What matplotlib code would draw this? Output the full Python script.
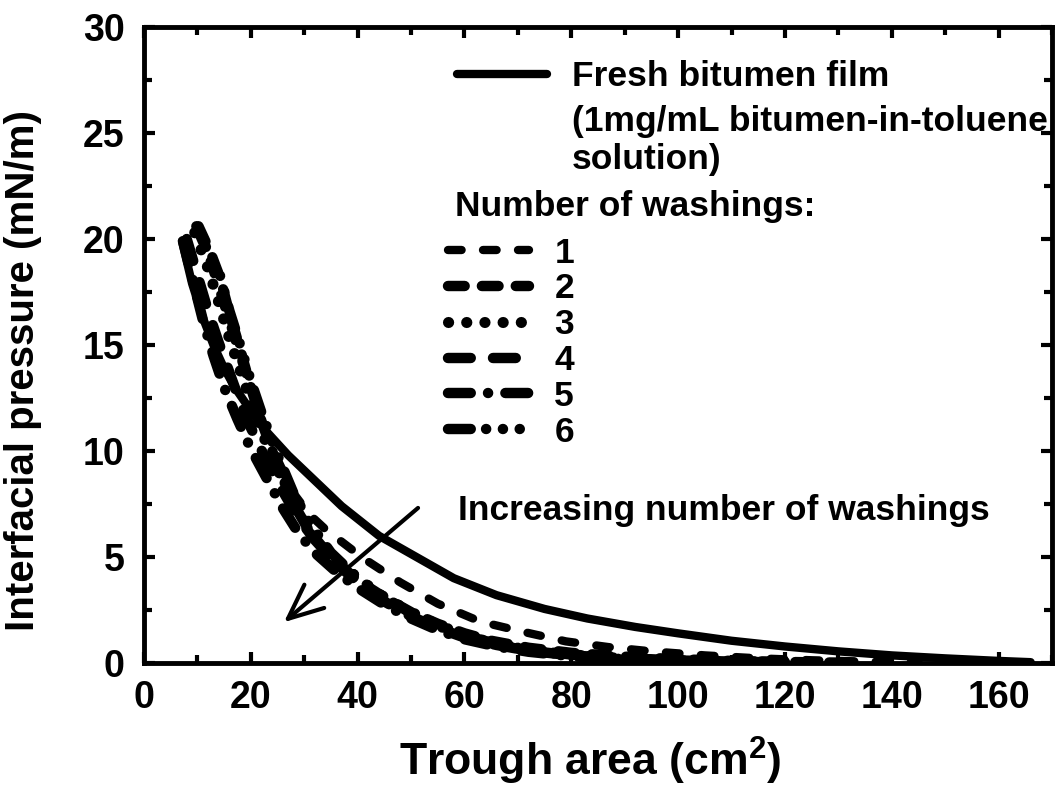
import matplotlib
matplotlib.use('Agg')
import matplotlib.pyplot as plt
from matplotlib.ticker import MultipleLocator

plt.rcParams['font.family'] = ['Liberation Sans', 'DejaVu Sans']
plt.rcParams['font.weight'] = 'bold'
plt.rcParams['axes.labelweight'] = 'bold'
plt.rcParams['mathtext.fontset'] = 'custom'
plt.rcParams['mathtext.rm'] = 'Liberation Sans:bold'
plt.rcParams['mathtext.default'] = 'rm'
plt.rcParams['lines.scale_dashes'] = False

# surface pressure isotherms: trough area (cm2) vs interfacial pressure (mN/m)
area_fresh = [7.1, 9, 11, 13, 15, 17, 20, 23, 27, 32, 37, 44, 51, 58, 66, 75,
              83, 92, 100, 110, 120, 130, 140, 150, 160, 166]
pres_fresh = [19.9, 17.9, 16.3, 15.0, 13.9, 13.0, 11.9, 10.9, 9.8, 8.6, 7.4, 6.0,
              5.0, 4.0, 3.2, 2.55, 2.1, 1.7, 1.4, 1.05, 0.78, 0.55, 0.36, 0.22,
              0.1, 0.04]

area_w1 = [10, 12, 14, 16, 18, 20, 22, 25, 28, 31, 34, 41, 48, 55, 63, 71, 79,
           87, 95, 105, 115, 125, 135, 145]
pres_w1 = [20.5, 19.2, 17.6, 16.0, 14.4, 12.9, 11.5, 9.6, 8.0, 7.0, 6.3, 4.95,
           3.8, 2.8, 1.95, 1.47, 1.02, 0.75, 0.55, 0.36, 0.22, 0.13, 0.07, 0.03]

area_w2 = [10.2, 12.4, 14.2, 16, 18, 20, 22, 25, 28, 31, 35, 40, 45, 50, 55, 60,
           65, 72, 80, 90, 100, 110, 120, 130]
pres_w2 = [20.6, 19.4, 18.2, 16.5, 14.8, 13.0, 11.4, 9.3, 7.5, 6.2, 5.0, 3.9,
           3.1, 2.4, 1.85, 1.4, 1.05, 0.72, 0.48, 0.3, 0.18, 0.1, 0.05, 0.02]

area_w3 = [9.5, 12, 14, 16, 18, 20, 23, 26, 29, 32, 36, 40, 45, 50, 55, 60, 66,
           72, 80, 90, 100, 110, 120]
pres_w3 = [20.3, 18.6, 17.0, 15.3, 13.8, 12.3, 10.3, 8.6, 7.1, 6.0, 4.9, 4.0,
           3.1, 2.4, 1.8, 1.3, 0.9, 0.6, 0.38, 0.22, 0.13, 0.07, 0.04]

area_w4 = [8, 10, 12, 14, 16, 18, 20, 23, 26, 29, 32, 36, 40, 45, 50, 55, 60,
           66, 72, 80, 90, 100, 110, 120]
pres_w4 = [20.0, 18.3, 16.6, 15.1, 13.7, 12.3, 11.1, 9.5, 8.1, 6.8, 5.8, 4.7,
           3.8, 2.9, 2.2, 1.65, 1.2, 0.85, 0.58, 0.36, 0.2, 0.12, 0.07, 0.04]

area_w5 = [7.3, 9, 11, 13, 15, 17.5, 20, 23, 26, 29, 32, 36, 40, 45, 50, 55, 60,
           66, 72, 80, 90, 100, 110, 120]
pres_w5 = [19.9, 18.2, 16.2, 14.5, 13.0, 11.5, 10.1, 8.7, 7.3, 6.1, 5.2, 4.3,
           3.55, 2.75, 2.1, 1.55, 1.12, 0.78, 0.53, 0.32, 0.18, 0.1, 0.06, 0.03]

area_w6 = [9.8, 11, 12.5, 14.2, 16, 18, 20, 22, 25, 28, 31, 35, 40, 45, 50, 55,
           60, 66, 72, 80, 90, 100, 110, 120]
pres_w6 = [20.6, 19.9, 19.2, 18.3, 16.6, 15.0, 13.3, 11.8, 9.8, 8.0, 6.6, 5.2,
           4.0, 3.1, 2.35, 1.75, 1.3, 0.9, 0.62, 0.4, 0.22, 0.13, 0.08, 0.04]

washing_labels = ['1', '2', '3', '4', '5', '6']

fig = plt.figure(figsize=(10.55, 8.06), dpi=100)
ax = fig.add_axes([0.1365, 0.1774, 0.8607, 0.7891])

kw = dict(color='black', solid_capstyle='round', dash_capstyle='round')
h_fresh, = ax.plot(area_fresh, pres_fresh, lw=6, **kw)
h1, = ax.plot(area_w1, pres_w1, lw=6, dashes=(9.8, 15.4), **kw)
h2, = ax.plot(area_w2, pres_w2, lw=7.5, dashes=(12, 12.4), **kw)
h3, = ax.plot(area_w3, pres_w3, lw=8, dashes=(0.1, 13), **kw)
h4, = ax.plot(area_w4, pres_w4, lw=7.5, dashes=(16.4, 16), **kw)
h5, = ax.plot(area_w5, pres_w5, lw=7.5, dashes=(16.4, 12.4, 0.1, 12.4), **kw)
h6, = ax.plot(area_w6, pres_w6, lw=7.5,
              dashes=(16.4, 11, 0.1, 12, 0.1, 12, 0.1, 11), **kw)

ax.set_xlim(0, 170)
ax.set_ylim(0, 30)
ax.xaxis.set_major_locator(MultipleLocator(20))
ax.xaxis.set_minor_locator(MultipleLocator(10))
ax.yaxis.set_major_locator(MultipleLocator(5))
ax.yaxis.set_minor_locator(MultipleLocator(2.5))
ax.tick_params(which='both', direction='in', top=True, right=True, width=3)
ax.tick_params(which='major', length=8, labelsize=27)
ax.tick_params(which='minor', length=5.5)
ax.tick_params(axis='x', pad=12)
ax.tick_params(axis='y', pad=14)
for s in ax.spines.values():
    s.set_linewidth(3.5)

ax.set_xlabel('Trough area (cm$^{2}$)', fontsize=32, fontweight='bold')
ax.set_ylabel('Interfacial pressure (mN/m)', fontsize=29, fontweight='bold')
ax.xaxis.set_label_coords(0.491, -0.113)
ax.yaxis.set_label_coords(-0.112, 0.46)

fs = 25.5
leg1 = ax.legend([h_fresh], ['Fresh bitumen film'], loc='upper left',
                 bbox_to_anchor=(0.3447, 0.948), frameon=False, fontsize=fs,
                 handlelength=2.54, handletextpad=0.7, borderpad=0,
                 borderaxespad=0)
ax.add_artist(leg1)
ax.text(0.4714, 0.821, '(1mg/mL bitumen-in-toluene\nsolution)',
        transform=ax.transAxes, ha='left', va='center', fontsize=fs,
        linespacing=1.2)

ax.text(0.3425, 0.717, 'Number of washings:', transform=ax.transAxes,
        ha='left', va='center', fontsize=fs)
leg2 = ax.legend([h1, h2, h3, h4, h5, h6], washing_labels, loc='upper left',
                 bbox_to_anchor=(0.3348, 0.6706), frameon=False, fontsize=fs,
                 handlelength=2.3, handletextpad=0.7, borderpad=0,
                 borderaxespad=0, labelspacing=0.08)

ax.annotate('', xy=(25.8, 1.84), xytext=(51.7, 7.4), fontsize=10,
            arrowprops=dict(arrowstyle='->,head_length=2.5,head_width=1.1',
                            lw=3, color='black'))
ax.text(58.8, 7.2, 'Increasing number of washings', fontsize=fs,
        ha='left', va='center')

fig.savefig('out.png', dpi=100)
